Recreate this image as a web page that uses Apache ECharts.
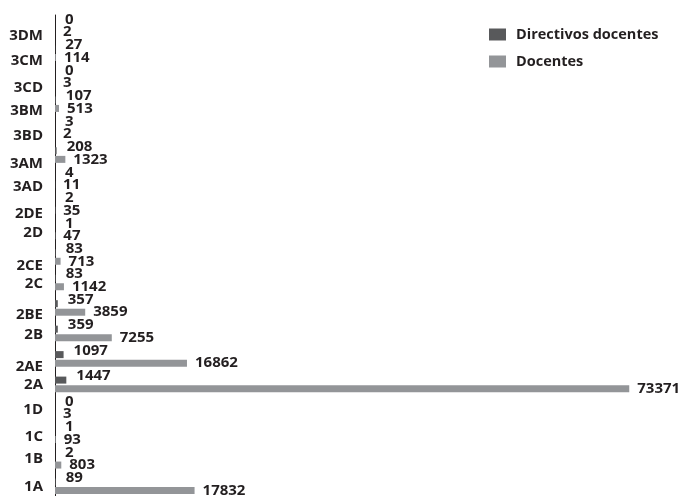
<!DOCTYPE html>
<html>
<head>
<meta charset="utf-8">
<script src="https://cdn.jsdelivr.net/npm/echarts@6/dist/echarts.min.js"></script>
<style>
  html, body { margin: 0; padding: 0; background: #ffffff; }
  #chart { width: 682px; height: 496px; }
</style>
</head>
<body>
<div id="chart"></div>
<script>
// Grades / groups, listed bottom to top
var categories = ['1A', '1B', '1C', '1D', '2A', '2AE', '2B', '2BE', '2C', '2CE',
                  '2D', '2DE', '3AD', '3AM', '3BD', '3BM', '3CD', '3CM', '3DM'];
var directivos = [89, 2, 1, 0, 1447, 1097, 359, 357, 83, 83,
                  1, 2, 4, 208, 3, 107, 0, 27, 0];
var docentes   = [17832, 803, 93, 3, 73371, 16862, 7255, 3859, 1142, 713,
                  47, 35, 11, 1323, 2, 513, 3, 114, 2];
var seriesNames = ['Directivos docentes', 'Docentes'];

var FONT = '"Open Sans", "Noto Sans", sans-serif';
var TEXT = '#231f20';

// Category labels sit slightly below their band centre on many rows (px downward)
var labelDrop = {
  '1A': 0, '1B': -2, '1C': 1, '1D': 0, '2A': 0, '2AE': 8, '2B': 1, '2BE': 7,
  '2C': 1, '2CE': 9, '2D': 1, '2DE': 8, '3AD': 6, '3AM': 9, '3BD': 6,
  '3BM': 7, '3CD': 9, '3CM': 8, '3DM': 8
};

var rich = {};
Object.keys(labelDrop).forEach(function (k) {
  var d = labelDrop[k];
  rich['c' + k] = {
    color: TEXT,
    fontFamily: FONT,
    fontWeight: 'bold',
    fontSize: 15,
    padding: d >= 0 ? [2 * d, 0, 0, 0] : [0, 0, -2 * d, 0]
  };
});

var chart = echarts.init(document.getElementById('chart'), null, { renderer: 'canvas' });

function labelCfg(dist, dy) {
  return {
    show: true,
    position: 'right',
    distance: dist,
    offset: [0, dy],
    color: TEXT,
    fontFamily: FONT,
    fontWeight: 'bold',
    fontSize: 15
  };
}

chart.setOption({
  animation: false,
  backgroundColor: '#ffffff',
  grid: { left: 55, top: 15, height: 484, width: 587, outerBoundsMode: 'none', containLabel: false },
  legend: {
    orient: 'vertical',
    left: 489,
    top: 27,
    padding: 0,
    itemWidth: 17,
    itemHeight: 12,
    itemGap: 12,
    icon: 'rect',
    data: seriesNames,
    textStyle: {
      color: TEXT,
      fontFamily: FONT,
      fontWeight: 'bold',
      fontSize: 14.5,
      padding: [0, 0, 0, 5]
    }
  },
  xAxis: {
    type: 'value',
    min: 0,
    max: 75000,
    show: false,
    splitLine: { show: false }
  },
  yAxis: {
    type: 'category',
    data: categories,
    axisLine: { show: true, lineStyle: { color: '#231f20', width: 1 } },
    axisTick: { show: false },
    axisLabel: {
      color: TEXT,
      fontFamily: FONT,
      fontWeight: 'bold',
      fontSize: 15,
      margin: 12,
      formatter: function (v) { return '{c' + v + '|' + v + '}'; },
      rich: rich
    }
  },
  series: [
    {
      name: seriesNames[0],
      type: 'bar',
      data: directivos,
      barWidth: 7,
      barGap: '22%',
      itemStyle: { color: '#58595b' },
      label: labelCfg(10, -4),
      z: 3
    },
    {
      name: seriesNames[1],
      type: 'bar',
      data: docentes,
      barWidth: 7,
      itemStyle: { color: '#939598' },
      label: labelCfg(8, 0),
      z: 2
    }
  ]
});
</script>
</body>
</html>
